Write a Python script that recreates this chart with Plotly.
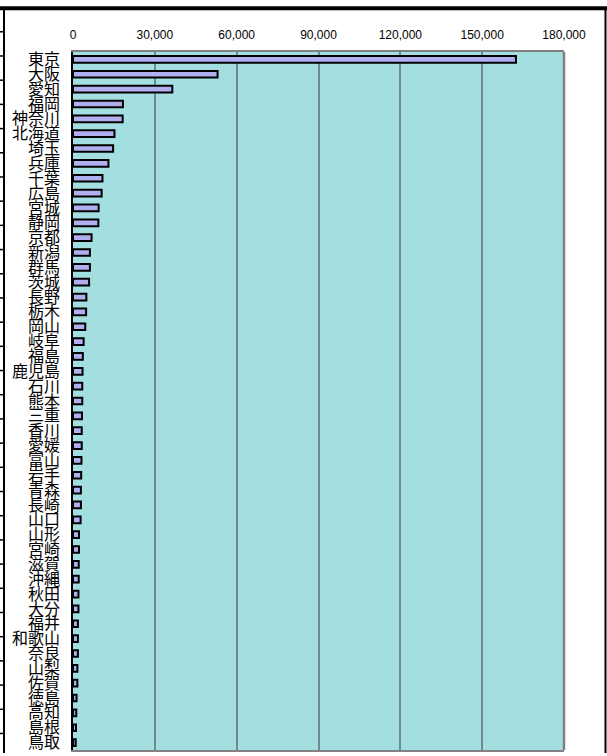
import plotly.graph_objects as go

prefectures = ["東京", "大阪", "愛知", "福岡", "神奈川", "北海道", "埼玉", "兵庫", "千葉", "広島",
               "宮城", "静岡", "京都", "新潟", "群馬", "茨城", "長野", "栃木", "岡山", "岐阜",
               "福島", "鹿児島", "石川", "熊本", "三重", "香川", "愛媛", "富山", "岩手", "青森",
               "長崎", "山口", "山形", "宮崎", "滋賀", "沖縄", "秋田", "大分", "福井", "和歌山",
               "奈良", "山梨", "佐賀", "徳島", "高知", "島根", "鳥取"]
values = [162400, 53000, 36400, 18300, 18200, 15200, 14700, 13000, 10800, 10500,
          9400, 9300, 6800, 6200, 6200, 5900, 4900, 4800, 4500, 3900,
          3600, 3500, 3400, 3400, 3300, 3200, 3200, 3100, 3000, 2900,
          2900, 2800, 2200, 2200, 2100, 2100, 2000, 2000, 1800, 1800,
          1800, 1600, 1600, 1300, 1200, 1100, 1000]
x_ticks = [0, 30000, 60000, 90000, 120000, 150000, 180000]
x_tick_text = ["0", "30,000", "60,000", "90,000", "120,000", "150,000", "180,000"]

W, H = 607, 756
L, R, T, B = 73, 43, 52, 3
pw, ph = W - L - R, H - T - B

def px(x):
    return (x - L) / pw

def py(y):
    return (H - B - y) / ph

fig = go.Figure(go.Bar(
    x=values, y=prefectures, orientation="h",
    marker=dict(color="#B0B0F0", line=dict(color="black", width=2)),
    hoverinfo="x+y",
))

shapes = [
    # outer frame (sheet borders)
    dict(type="line", xref="paper", yref="paper", x0=px(0), x1=px(W), y0=py(8), y1=py(8),
         line=dict(color="black", width=4)),
    dict(type="line", xref="paper", yref="paper", x0=px(4), x1=px(4), y0=py(8), y1=py(H),
         line=dict(color="black", width=2)),
    dict(type="line", xref="paper", yref="paper", x0=px(605.5), x1=px(605.5), y0=py(8), y1=py(H),
         line=dict(color="black", width=2)),
    # right edge of plot area
    dict(type="line", xref="paper", yref="paper", x0=1, x1=1, y0=0, y1=1,
         line=dict(color="#808080", width=2.5)),
]
yy = 31.7
while yy < H:
    shapes.append(dict(type="line", xref="paper", yref="paper", x0=px(0), x1=px(4),
                       y0=py(yy), y1=py(yy), line=dict(color="black", width=1.5)))
    yy += 24.3

fig.update_layout(
    width=W, height=H,
    margin=dict(l=L, r=R, t=T, b=B),
    paper_bgcolor="white",
    plot_bgcolor="#A3DFE0",
    bargap=0.55,
    showlegend=False,
    shapes=shapes,
    font=dict(family="Liberation Sans, Arial, sans-serif", color="black"),
)
fig.update_xaxes(
    side="top", range=[0, 180000], tickmode="array", tickvals=x_ticks, ticktext=x_tick_text,
    tickfont=dict(size=12, family="Liberation Sans, Arial, sans-serif", color="black"),
    ticks="outside", ticklen=6, tickcolor="rgba(0,0,0,0)",
    showgrid=True, gridcolor="#6F8A8A", gridwidth=1.5, zeroline=False,
    showline=True, linecolor="#808080", linewidth=2, mirror=True,
    fixedrange=True,
)
fig.update_yaxes(
    autorange="reversed", tickmode="linear", tick0=0, dtick=1,
    tickfont=dict(size=16, family="Noto Sans CJK JP", color="black"),
    ticks="outside", ticklen=8, tickcolor="rgba(0,0,0,0)",
    showgrid=False, zeroline=False,
    showline=True, linecolor="black", linewidth=1.5,
    fixedrange=True,
)

fig.write_html("out.html", config={"displayModeBar": False},
               post_script="document.body.style.margin='0';document.body.style.overflow='hidden';")
